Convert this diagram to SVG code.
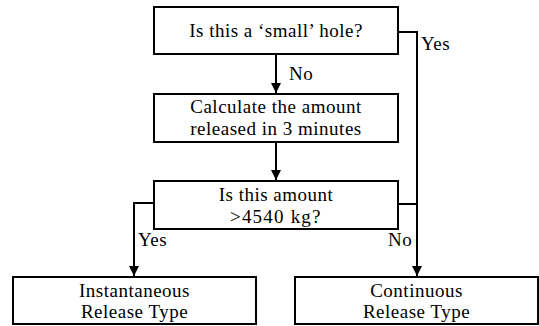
<svg xmlns="http://www.w3.org/2000/svg" width="539" height="326" viewBox="0 0 539 326">
<defs>
<style>
.box{fill:#fff;stroke:#000;stroke-width:2}
.t{font-family:'Liberation Serif','Times New Roman','DejaVu Serif',serif;font-size:19px;letter-spacing:0.5px;fill:#000}
.c{text-anchor:middle}
.ln{fill:none;stroke:#000;stroke-width:2}
</style>
<marker id="ah" viewBox="0 0 10 10" refX="10" refY="5" markerWidth="5" markerHeight="5" orient="auto" markerUnits="strokeWidth">
<path d="M0,0 L10,5 L0,10 z" fill="#000"/>
</marker>
</defs>
<rect width="539" height="326" fill="#fff"/>
<g id="connectors">
<path class="ln" d="M276,54 V93" marker-end="url(#ah)"/>
<path class="ln" d="M276,142 V180" marker-end="url(#ah)"/>
<path class="ln" d="M398,32 H417 V276" marker-end="url(#ah)"/>
<path class="ln" d="M398,204 H417"/>
<path class="ln" d="M154,203 H134 V276" marker-end="url(#ah)"/>
<text class="t" x="289" y="80">No</text>
<text class="t" x="421" y="50">Yes</text>
<text class="t" x="138" y="246">Yes</text>
<text class="t" x="388" y="246">No</text>
</g>
<g id="n1">
<rect class="box" x="154" y="7" width="244" height="47"/>
<text class="t c" x="276" y="37">Is this a ‘small’ hole?</text>
</g>
<g id="n2">
<rect class="box" x="154" y="94" width="244" height="48"/>
<text class="t c" x="276" y="113">Calculate the amount</text>
<text class="t c" x="276" y="135">released in 3 minutes</text>
</g>
<g id="n3">
<rect class="box" x="154" y="181" width="244" height="48"/>
<text class="t c" x="276" y="201">Is this amount</text>
<text class="t" x="230" y="223" textLength="91" lengthAdjust="spacing">&gt;4540 kg?</text>
</g>
<g id="n4">
<rect class="box" x="13" y="277" width="243" height="47"/>
<text class="t c" x="134.5" y="297">Instantaneous</text>
<text class="t c" x="134.5" y="318">Release Type</text>
</g>
<g id="n5">
<rect class="box" x="295" y="277" width="243" height="47"/>
<text class="t c" x="416.5" y="297">Continuous</text>
<text class="t c" x="416.5" y="318">Release Type</text>
</g>
</svg>
